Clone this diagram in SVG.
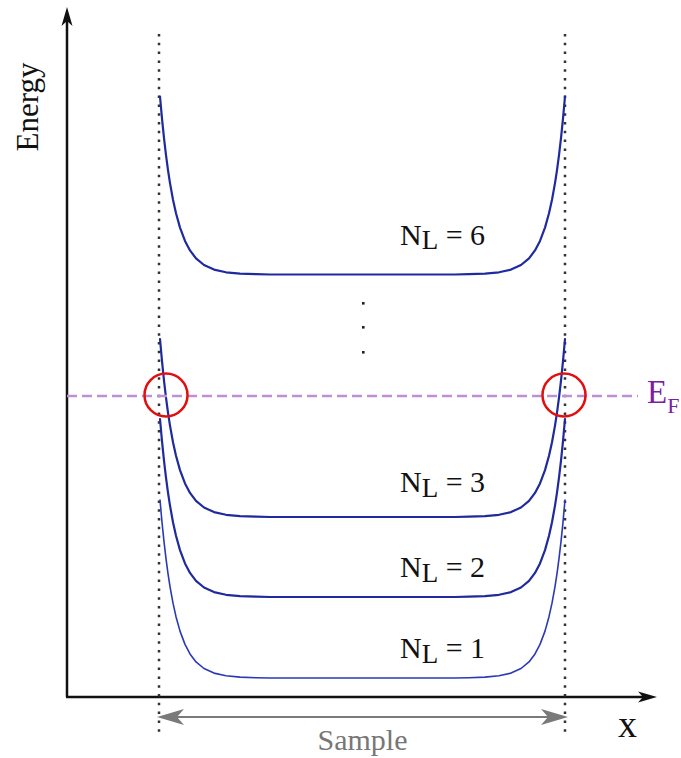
<svg xmlns="http://www.w3.org/2000/svg" xmlns:xlink="http://www.w3.org/1999/xlink" width="681" height="758" viewBox="0 0 681 758">
  <style>
    .axis { stroke: #111; stroke-width: 2.5; fill: none; }
    .head { fill: #111; stroke: none; }
    .dotted { stroke: #333; stroke-width: 2.5; stroke-dasharray: 2.5 6.3; fill: none; }
    .well { fill: none; stroke: #1f2a9e; stroke-width: 2.2; stroke-linejoin: round; stroke-linecap: round; }
    .well.thin { stroke: #2a3ab4; stroke-width: 1.6; }
    .lbl { font-family: "Liberation Serif", "Times New Roman", serif; fill: #111; }
    .ef { stroke: #bf8fd6; stroke-width: 2.5; stroke-dasharray: 10 5; fill: none; }
    .ring { fill: none; stroke: #e01010; stroke-width: 2.5; }
    .sample { stroke: #7a7a7a; stroke-width: 1.8; fill: none; }
    .shead { fill: #7a7a7a; }
  </style>
  <defs>
    <path id="wellShape" d="M160,-178 L162,-155.8 L164,-136.3 L166,-119.3 L168,-104.4 L170,-91.4 L173,-74.8 L176,-61.3 L180,-46.9 L185,-33.6 L190,-24.1 L196,-16.1 L204,-9.5 L214,-4.9 L226,-2.2 L240,-0.9 L256,-0.3 L270,0 L455,0 L469,-0.3 L485,-0.9 L499,-2.2 L511,-4.9 L521,-9.5 L529,-16.1 L535,-24.1 L540,-33.6 L545,-46.9 L549,-61.3 L552,-74.8 L555,-91.4 L557,-104.4 L559,-119.3 L561,-136.3 L563,-155.8 L565,-178"/>
  </defs>
  <rect width="681" height="758" fill="#fff"/>

  <g id="axes">
    <line class="axis" x1="67" y1="697" x2="67" y2="14"/>
    <path class="head" d="M67,7 L61.5,26 L67,21 L72.5,26 Z"/>
    <line class="axis" x1="66" y1="697" x2="648" y2="697"/>
    <path class="head" d="M657,697 L638,691.5 L643,697 L638,702.5 Z"/>
    <text class="lbl" font-size="31" transform="translate(38,107) rotate(-90)" text-anchor="middle">Energy</text>
    <text class="lbl" font-size="38" x="618" y="737">x</text>
  </g>

  <g id="sample-bounds">
    <line class="dotted" x1="159" y1="34" x2="159" y2="736"/>
    <line class="dotted" x1="565" y1="34" x2="565" y2="736"/>
  </g>

  <g id="connectors">
    <line class="sample" x1="170" y1="717" x2="555" y2="717"/>
    <path class="shead" d="M157,717 L184,709 L177,717 L184,725 Z"/>
    <path class="shead" d="M568,717 L541,709 L548,717 L541,725 Z"/>
  </g>
  <text id="sample-label" class="lbl" font-size="30" x="362.5" y="750" text-anchor="middle" fill="#777" style="fill:#777">Sample</text>

  <g id="level-6">
    <use xlink:href="#wellShape" href="#wellShape" class="well" transform="translate(0,274.5)"/>
    <text class="lbl" font-size="30" x="400" y="245">N<tspan font-size="27" dy="4">L</tspan><tspan dy="-4"> = 6</tspan></text>
  </g>

  <g id="dots">
    <rect x="362" y="302" width="2.6" height="2.6" fill="#222"/>
    <rect x="362" y="326" width="2.6" height="2.6" fill="#222"/>
    <rect x="362" y="351" width="2.6" height="2.6" fill="#222"/>
  </g>

  <g id="level-3">
    <use xlink:href="#wellShape" href="#wellShape" class="well" transform="translate(0,517)"/>
    <text class="lbl" font-size="30" x="400" y="491.5">N<tspan font-size="27" dy="5">L</tspan><tspan dy="-5"> = 3</tspan></text>
  </g>

  <g id="level-2">
    <use xlink:href="#wellShape" href="#wellShape" class="well" transform="translate(0,597)"/>
    <text class="lbl" font-size="30" x="400" y="576.5">N<tspan font-size="27" dy="5">L</tspan><tspan dy="-5"> = 2</tspan></text>
  </g>

  <g id="level-1">
    <use xlink:href="#wellShape" href="#wellShape" class="well thin" transform="translate(0,678)"/>
    <text class="lbl" font-size="30" x="400" y="658">N<tspan font-size="27" dy="5">L</tspan><tspan dy="-5"> = 1</tspan></text>
  </g>

  <g id="fermi-level">
    <line class="ef" x1="67" y1="396" x2="638" y2="396"/>
    <text class="lbl" font-size="33" x="647" y="403" style="fill:#7b1fa2">E<tspan font-size="22" dy="10">F</tspan></text>
  </g>

  <g id="crossings">
    <circle class="ring" cx="166" cy="395" r="21.5"/>
    <circle class="ring" cx="564" cy="395" r="21.5"/>
  </g>
</svg>
